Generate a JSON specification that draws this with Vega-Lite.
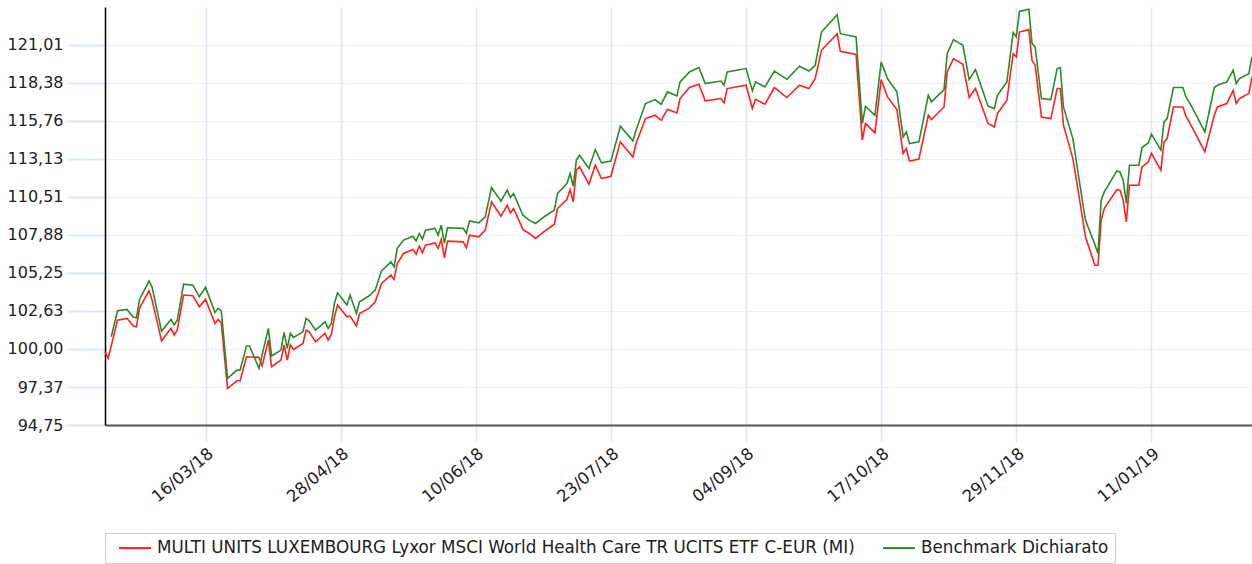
{
  "$schema": "https://vega.github.io/schema/vega-lite/v6.json",
  "width": 1147,
  "height": 418,
  "autosize": {"type": "none"},
  "padding": {"left": 105, "top": 7, "right": 0, "bottom": 139},
  "background": "white",
  "config": {"font": "DejaVu Sans", "view": {"stroke": null}},
  "datasets": {
    "fund": [
      {"date":"2018-02-12","value":99.81},{"date":"2018-02-13","value":99.35},{"date":"2018-02-16","value":101.99},{"date":"2018-02-19","value":102.11},{"date":"2018-02-21","value":101.58},{"date":"2018-02-22","value":101.53},{"date":"2018-02-23","value":102.82},{"date":"2018-02-26","value":104.01},{"date":"2018-02-27","value":103.37},{"date":"2018-03-02","value":100.56},{"date":"2018-03-05","value":101.42},{"date":"2018-03-06","value":100.96},{"date":"2018-03-07","value":101.30},{"date":"2018-03-09","value":103.72},{"date":"2018-03-12","value":103.67},{"date":"2018-03-14","value":102.91},{"date":"2018-03-16","value":103.42},{"date":"2018-03-19","value":101.76},{"date":"2018-03-20","value":102.04},{"date":"2018-03-21","value":101.81},{"date":"2018-03-23","value":97.28},{"date":"2018-03-25","value":97.63},{"date":"2018-03-26","value":97.80},{"date":"2018-03-27","value":97.80},{"date":"2018-03-29","value":99.46},{"date":"2018-04-02","value":99.42},{"date":"2018-04-03","value":98.84},{"date":"2018-04-05","value":100.61},{"date":"2018-04-06","value":98.77},{"date":"2018-04-09","value":99.23},{"date":"2018-04-10","value":100.27},{"date":"2018-04-11","value":99.23},{"date":"2018-04-12","value":100.27},{"date":"2018-04-13","value":99.97},{"date":"2018-04-16","value":100.38},{"date":"2018-04-17","value":101.30},{"date":"2018-04-18","value":101.18},{"date":"2018-04-20","value":100.49},{"date":"2018-04-23","value":101.07},{"date":"2018-04-24","value":100.61},{"date":"2018-04-25","value":100.96},{"date":"2018-04-26","value":102.20},{"date":"2018-04-27","value":103.03},{"date":"2018-04-30","value":102.22},{"date":"2018-05-01","value":102.27},{"date":"2018-05-03","value":101.58},{"date":"2018-05-04","value":102.45},{"date":"2018-05-07","value":102.80},{"date":"2018-05-09","value":103.25},{"date":"2018-05-11","value":104.52},{"date":"2018-05-14","value":105.09},{"date":"2018-05-15","value":104.80},{"date":"2018-05-16","value":105.90},{"date":"2018-05-18","value":106.59},{"date":"2018-05-21","value":106.87},{"date":"2018-05-22","value":106.54},{"date":"2018-05-23","value":107.09},{"date":"2018-05-24","value":106.63},{"date":"2018-05-25","value":107.16},{"date":"2018-05-28","value":107.32},{"date":"2018-05-29","value":106.94},{"date":"2018-05-30","value":107.56},{"date":"2018-05-31","value":106.29},{"date":"2018-06-01","value":107.44},{"date":"2018-06-06","value":107.39},{"date":"2018-06-07","value":106.98},{"date":"2018-06-08","value":107.85},{"date":"2018-06-11","value":107.74},{"date":"2018-06-13","value":108.20},{"date":"2018-06-15","value":110.15},{"date":"2018-06-18","value":109.16},{"date":"2018-06-20","value":109.92},{"date":"2018-06-21","value":109.39},{"date":"2018-06-22","value":109.69},{"date":"2018-06-25","value":108.25},{"date":"2018-06-27","value":107.97},{"date":"2018-06-29","value":107.63},{"date":"2018-07-02","value":108.15},{"date":"2018-07-05","value":108.61},{"date":"2018-07-06","value":109.69},{"date":"2018-07-09","value":110.32},{"date":"2018-07-10","value":111.00},{"date":"2018-07-11","value":110.15},{"date":"2018-07-12","value":112.34},{"date":"2018-07-13","value":112.57},{"date":"2018-07-16","value":111.37},{"date":"2018-07-18","value":112.68},{"date":"2018-07-20","value":111.76},{"date":"2018-07-23","value":111.92},{"date":"2018-07-26","value":114.29},{"date":"2018-07-30","value":113.25},{"date":"2018-07-31","value":114.18},{"date":"2018-08-03","value":115.90},{"date":"2018-08-06","value":116.13},{"date":"2018-08-08","value":115.78},{"date":"2018-08-10","value":116.54},{"date":"2018-08-13","value":116.29},{"date":"2018-08-14","value":117.28},{"date":"2018-08-17","value":118.04},{"date":"2018-08-20","value":118.27},{"date":"2018-08-22","value":117.12},{"date":"2018-08-27","value":117.28},{"date":"2018-08-28","value":116.98},{"date":"2018-08-29","value":117.97},{"date":"2018-09-04","value":118.20},{"date":"2018-09-06","value":116.59},{"date":"2018-09-07","value":117.23},{"date":"2018-09-10","value":116.89},{"date":"2018-09-13","value":118.04},{"date":"2018-09-17","value":117.35},{"date":"2018-09-21","value":118.20},{"date":"2018-09-24","value":117.97},{"date":"2018-09-26","value":118.66},{"date":"2018-09-28","value":120.61},{"date":"2018-10-03","value":121.76},{"date":"2018-10-04","value":120.54},{"date":"2018-10-09","value":120.32},{"date":"2018-10-11","value":114.41},{"date":"2018-10-12","value":115.56},{"date":"2018-10-15","value":114.91},{"date":"2018-10-17","value":118.59},{"date":"2018-10-19","value":117.39},{"date":"2018-10-22","value":116.52},{"date":"2018-10-24","value":113.49},{"date":"2018-10-25","value":113.83},{"date":"2018-10-26","value":112.96},{"date":"2018-10-29","value":113.10},{"date":"2018-11-01","value":116.13},{"date":"2018-11-02","value":115.83},{"date":"2018-11-06","value":116.70},{"date":"2018-11-07","value":119.12},{"date":"2018-11-09","value":120.04},{"date":"2018-11-12","value":119.65},{"date":"2018-11-14","value":117.35},{"date":"2018-11-16","value":117.97},{"date":"2018-11-20","value":115.56},{"date":"2018-11-22","value":115.32},{"date":"2018-11-23","value":116.25},{"date":"2018-11-26","value":117.16},{"date":"2018-11-28","value":120.38},{"date":"2018-11-29","value":120.15},{"date":"2018-11-30","value":121.87},{"date":"2018-12-03","value":122.04},{"date":"2018-12-04","value":119.92},{"date":"2018-12-05","value":119.58},{"date":"2018-12-07","value":116.01},{"date":"2018-12-10","value":115.90},{"date":"2018-12-12","value":117.97},{"date":"2018-12-13","value":117.97},{"date":"2018-12-14","value":115.44},{"date":"2018-12-17","value":113.14},{"date":"2018-12-19","value":110.50},{"date":"2018-12-21","value":107.74},{"date":"2018-12-24","value":105.78},{"date":"2018-12-25","value":105.78},{"date":"2018-12-26","value":108.89},{"date":"2018-12-27","value":109.69},{"date":"2018-12-31","value":111.00},{"date":"2019-01-01","value":110.96},{"date":"2019-01-02","value":110.27},{"date":"2019-01-03","value":108.77},{"date":"2019-01-04","value":111.30},{"date":"2019-01-07","value":111.30},{"date":"2019-01-08","value":112.56},{"date":"2019-01-10","value":112.91},{"date":"2019-01-11","value":113.49},{"date":"2019-01-14","value":112.34},{"date":"2019-01-15","value":114.29},{"date":"2019-01-16","value":114.52},{"date":"2019-01-18","value":116.70},{"date":"2019-01-21","value":116.70},{"date":"2019-01-22","value":116.06},{"date":"2019-01-24","value":115.28},{"date":"2019-01-28","value":113.60},{"date":"2019-01-31","value":116.13},{"date":"2019-02-01","value":116.70},{"date":"2019-02-04","value":116.94},{"date":"2019-02-06","value":117.85},{"date":"2019-02-07","value":116.94},{"date":"2019-02-08","value":117.28},{"date":"2019-02-11","value":117.63},{"date":"2019-02-12","value":118.77}
    ],
    "bench": [
      {"date":"2018-02-14","value":100.84},{"date":"2018-02-16","value":102.63},{"date":"2018-02-19","value":102.73},{"date":"2018-02-21","value":102.18},{"date":"2018-02-22","value":102.15},{"date":"2018-02-23","value":103.42},{"date":"2018-02-26","value":104.68},{"date":"2018-02-27","value":104.25},{"date":"2018-03-02","value":101.23},{"date":"2018-03-05","value":102.04},{"date":"2018-03-06","value":101.65},{"date":"2018-03-07","value":101.99},{"date":"2018-03-09","value":104.47},{"date":"2018-03-12","value":104.40},{"date":"2018-03-14","value":103.60},{"date":"2018-03-16","value":104.25},{"date":"2018-03-19","value":102.52},{"date":"2018-03-20","value":102.80},{"date":"2018-03-21","value":102.63},{"date":"2018-03-23","value":97.97},{"date":"2018-03-26","value":98.54},{"date":"2018-03-27","value":98.54},{"date":"2018-03-29","value":100.20},{"date":"2018-03-30","value":100.20},{"date":"2018-04-02","value":98.66},{"date":"2018-04-05","value":101.42},{"date":"2018-04-06","value":99.51},{"date":"2018-04-09","value":99.92},{"date":"2018-04-10","value":101.14},{"date":"2018-04-11","value":100.04},{"date":"2018-04-12","value":101.07},{"date":"2018-04-13","value":100.80},{"date":"2018-04-16","value":101.18},{"date":"2018-04-17","value":102.11},{"date":"2018-04-18","value":101.94},{"date":"2018-04-20","value":101.30},{"date":"2018-04-23","value":101.87},{"date":"2018-04-24","value":101.42},{"date":"2018-04-25","value":101.76},{"date":"2018-04-26","value":103.14},{"date":"2018-04-27","value":103.87},{"date":"2018-04-30","value":103.03},{"date":"2018-05-01","value":103.72},{"date":"2018-05-03","value":102.45},{"date":"2018-05-04","value":103.25},{"date":"2018-05-07","value":103.65},{"date":"2018-05-09","value":104.06},{"date":"2018-05-11","value":105.39},{"date":"2018-05-14","value":106.01},{"date":"2018-05-15","value":105.67},{"date":"2018-05-16","value":106.94},{"date":"2018-05-18","value":107.51},{"date":"2018-05-21","value":107.78},{"date":"2018-05-22","value":107.46},{"date":"2018-05-23","value":107.97},{"date":"2018-05-24","value":107.58},{"date":"2018-05-25","value":108.20},{"date":"2018-05-28","value":108.32},{"date":"2018-05-29","value":107.85},{"date":"2018-05-30","value":108.54},{"date":"2018-05-31","value":107.28},{"date":"2018-06-01","value":108.36},{"date":"2018-06-06","value":108.32},{"date":"2018-06-07","value":107.97},{"date":"2018-06-08","value":108.84},{"date":"2018-06-11","value":108.70},{"date":"2018-06-13","value":109.12},{"date":"2018-06-15","value":111.14},{"date":"2018-06-18","value":110.20},{"date":"2018-06-20","value":110.96},{"date":"2018-06-21","value":110.45},{"date":"2018-06-22","value":110.73},{"date":"2018-06-25","value":109.23},{"date":"2018-06-27","value":108.89},{"date":"2018-06-29","value":108.66},{"date":"2018-07-02","value":109.16},{"date":"2018-07-05","value":109.58},{"date":"2018-07-06","value":110.73},{"date":"2018-07-09","value":111.42},{"date":"2018-07-10","value":112.11},{"date":"2018-07-11","value":111.23},{"date":"2018-07-12","value":113.03},{"date":"2018-07-13","value":113.37},{"date":"2018-07-16","value":112.45},{"date":"2018-07-18","value":113.76},{"date":"2018-07-20","value":112.84},{"date":"2018-07-23","value":112.96},{"date":"2018-07-26","value":115.37},{"date":"2018-07-30","value":114.36},{"date":"2018-07-31","value":115.09},{"date":"2018-08-03","value":116.94},{"date":"2018-08-06","value":117.21},{"date":"2018-08-08","value":116.89},{"date":"2018-08-10","value":117.74},{"date":"2018-08-13","value":117.46},{"date":"2018-08-14","value":118.43},{"date":"2018-08-17","value":119.12},{"date":"2018-08-20","value":119.42},{"date":"2018-08-22","value":118.32},{"date":"2018-08-27","value":118.49},{"date":"2018-08-28","value":118.20},{"date":"2018-08-29","value":119.12},{"date":"2018-09-04","value":119.35},{"date":"2018-09-06","value":117.81},{"date":"2018-09-07","value":118.43},{"date":"2018-09-10","value":118.08},{"date":"2018-09-13","value":119.18},{"date":"2018-09-17","value":118.61},{"date":"2018-09-21","value":119.51},{"date":"2018-09-24","value":119.18},{"date":"2018-09-26","value":119.58},{"date":"2018-09-28","value":121.87},{"date":"2018-10-03","value":123.07},{"date":"2018-10-04","value":121.76},{"date":"2018-10-09","value":121.53},{"date":"2018-10-11","value":115.56},{"date":"2018-10-12","value":116.75},{"date":"2018-10-15","value":116.13},{"date":"2018-10-17","value":119.81},{"date":"2018-10-19","value":118.66},{"date":"2018-10-22","value":117.74},{"date":"2018-10-24","value":114.63},{"date":"2018-10-25","value":114.98},{"date":"2018-10-26","value":114.18},{"date":"2018-10-29","value":114.29},{"date":"2018-11-01","value":117.51},{"date":"2018-11-02","value":117.05},{"date":"2018-11-06","value":117.90},{"date":"2018-11-07","value":120.38},{"date":"2018-11-09","value":121.35},{"date":"2018-11-12","value":120.96},{"date":"2018-11-14","value":118.59},{"date":"2018-11-16","value":119.28},{"date":"2018-11-20","value":116.75},{"date":"2018-11-22","value":116.59},{"date":"2018-11-23","value":117.51},{"date":"2018-11-26","value":118.43},{"date":"2018-11-28","value":121.83},{"date":"2018-11-29","value":121.53},{"date":"2018-11-30","value":123.30},{"date":"2018-12-03","value":123.44},{"date":"2018-12-04","value":121.07},{"date":"2018-12-05","value":120.84},{"date":"2018-12-07","value":117.28},{"date":"2018-12-10","value":117.21},{"date":"2018-12-12","value":119.35},{"date":"2018-12-13","value":119.42},{"date":"2018-12-14","value":116.70},{"date":"2018-12-17","value":114.52},{"date":"2018-12-19","value":111.65},{"date":"2018-12-21","value":108.89},{"date":"2018-12-24","value":107.21},{"date":"2018-12-25","value":106.59},{"date":"2018-12-26","value":110.27},{"date":"2018-12-27","value":110.84},{"date":"2018-12-31","value":112.29},{"date":"2019-01-01","value":112.22},{"date":"2019-01-02","value":111.65},{"date":"2019-01-03","value":110.04},{"date":"2019-01-04","value":112.68},{"date":"2019-01-07","value":112.68},{"date":"2019-01-08","value":113.90},{"date":"2019-01-10","value":114.22},{"date":"2019-01-11","value":114.82},{"date":"2019-01-14","value":113.72},{"date":"2019-01-15","value":115.67},{"date":"2019-01-16","value":115.90},{"date":"2019-01-18","value":118.04},{"date":"2019-01-21","value":118.04},{"date":"2019-01-22","value":117.39},{"date":"2019-01-24","value":116.66},{"date":"2019-01-28","value":114.98},{"date":"2019-01-31","value":118.04},{"date":"2019-02-01","value":118.20},{"date":"2019-02-04","value":118.43},{"date":"2019-02-06","value":119.23},{"date":"2019-02-07","value":118.32},{"date":"2019-02-08","value":118.66},{"date":"2019-02-11","value":119.00},{"date":"2019-02-12","value":120.15}
    ]
  },
  "encoding": {
    "x": {
      "field": "date",
      "type": "temporal",
      "scale": {"type": "utc", "domain": [{"year": 2018, "month": 2, "date": 12, "utc": true}, {"year": 2019, "month": 2, "date": 12, "utc": true}]},
      "axis": {
        "title": null,
        "values": [
          {"year": 2018, "month": 3, "date": 16, "utc": true},
          {"year": 2018, "month": 4, "date": 28, "utc": true},
          {"year": 2018, "month": 6, "date": 10, "utc": true},
          {"year": 2018, "month": 7, "date": 23, "utc": true},
          {"year": 2018, "month": 9, "date": 4, "utc": true},
          {"year": 2018, "month": 10, "date": 17, "utc": true},
          {"year": 2018, "month": 11, "date": 29, "utc": true},
          {"year": 2019, "month": 1, "date": 11, "utc": true}
        ],
        "format": "%d/%m/%y",
        "labelAngle": -40,
        "labelFontSize": 16.5,
        "labelColor": "#222222",
        "labelPadding": 3,
        "grid": true,
        "gridColor": "#dce8f6",
        "gridWidth": 1.5,
        "tickColor": "#dce8f6",
        "tickWidth": 1.5,
        "tickSize": 17,
        "domainColor": "#555555",
        "domainWidth": 2
      }
    },
    "y": {
      "field": "value",
      "type": "quantitative",
      "scale": {"domain": [94.75, 123.6], "nice": false, "zero": false},
      "axis": {
        "title": null,
        "values": [94.75, 97.37, 100.0, 102.63, 105.25, 107.88, 110.51, 113.13, 115.76, 118.38, 121.01],
        "labelExpr": "replace(format(datum.value, '.2f'), '.', ',')",
        "labelFontSize": 16,
        "labelColor": "#222222",
        "labelPadding": 4,
        "grid": true,
        "gridColor": "#d3e2f4",
        "gridDash": [2, 2],
        "gridWidth": 1,
        "tickColor": "#dce8f6",
        "tickWidth": 2,
        "tickSize": 38,
        "domainColor": "#000000",
        "domainWidth": 1.5
      }
    }
  },
  "layer": [
    {
      "data": {"name": "fund"},
      "mark": {"type": "line", "strokeWidth": 1.6},
      "encoding": {
        "color": {
          "datum": "MULTI UNITS LUXEMBOURG Lyxor MSCI World Health Care TR UCITS ETF C-EUR (MI)",
          "type": "nominal",
          "scale": {"domain": ["MULTI UNITS LUXEMBOURG Lyxor MSCI World Health Care TR UCITS ETF C-EUR (MI)", "Benchmark Dichiarato"], "range": ["#ff2020", "#2a8a2a"]},
          "legend": {"orient": "none", "legendX": 0, "legendY": 526, "direction": "horizontal", "title": null, "symbolType": "M-2,0H2", "symbolSize": 256, "symbolOffset": 15, "symbolStrokeWidth": 2, "labelFontSize": 16.8, "labelColor": "#222222", "labelLimit": 1000, "labelOffset": 13, "columnPadding": 20, "padding": 6, "strokeColor": "#cccccc", "fillColor": "#ffffff"}
        }
      }
    },
    {
      "data": {"name": "bench"},
      "mark": {"type": "line", "strokeWidth": 1.6},
      "encoding": {
        "color": {
          "datum": "Benchmark Dichiarato",
          "type": "nominal",
          "scale": {"domain": ["MULTI UNITS LUXEMBOURG Lyxor MSCI World Health Care TR UCITS ETF C-EUR (MI)", "Benchmark Dichiarato"], "range": ["#ff2020", "#2a8a2a"]},
          "legend": {"orient": "none", "legendX": 0, "legendY": 526, "direction": "horizontal", "title": null, "symbolType": "M-2,0H2", "symbolSize": 256, "symbolOffset": 15, "symbolStrokeWidth": 2, "labelFontSize": 16.8, "labelColor": "#222222", "labelLimit": 1000, "labelOffset": 13, "columnPadding": 20, "padding": 6, "strokeColor": "#cccccc", "fillColor": "#ffffff"}
        }
      }
    }
  ]
}
